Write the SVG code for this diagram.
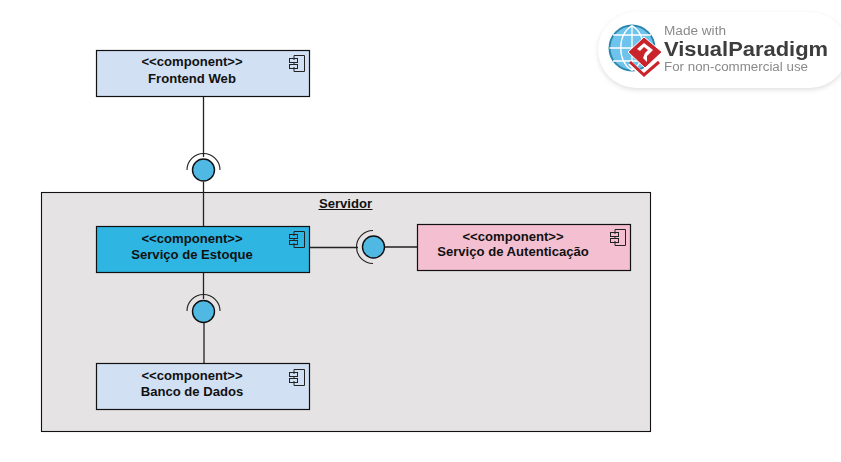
<svg xmlns="http://www.w3.org/2000/svg" width="841" height="462" viewBox="0 0 841 462">
<defs>
<style>
text{font-family:"Liberation Sans",Arial,sans-serif;font-weight:bold;font-size:13.100px;fill:#111;text-anchor:middle}
.box{stroke:#111;stroke-width:1.2}
.ln{stroke:#222;stroke-width:1.3;fill:none}
.arc{stroke:#222;stroke-width:1.1;fill:none}
.ball{fill:#4fb9e3;stroke:#111;stroke-width:1.4}
.ic{fill:none;stroke:#222;stroke-width:1}
.bt{text-anchor:start;font-weight:normal;fill:#8a8a8a}
</style>
<g id="cicon"><path class="ic" d="M4.500 0H15V16H4.500V11.500M4.500 8.500V7.500M4.500 4.500V0"/><rect class="ic" x="0" y="3" width="8" height="4"/><rect class="ic" x="0" y="9" width="8" height="4"/></g>
<filter id="sh" x="-10%" y="-20%" width="120%" height="140%"><feGaussianBlur stdDeviation="2.500"/></filter>
<filter id="sf"><feGaussianBlur stdDeviation="0.300"/></filter>
</defs>
<rect width="841" height="462" fill="#fff"/>
<g id="servidor"><rect x="41.500" y="192.500" width="609" height="239" fill="#e6e3e4" stroke="#111" stroke-width="1.100"/>
<text x="345.500" y="208">Servidor</text><rect x="318.500" y="209" width="54" height="1" fill="#111"/></g>
<g id="connectors">
<path class="ln" d="M203.500 96V157M203.500 182V226"/>
<path class="ln" d="M203.500 272V299M204 323V364" />
<path class="ln" d="M310 247.500H358M385 247H418"/>
<path class="arc" d="M187 170A16.500 16.500 0 0 1 220 170"/>
<path class="arc" d="M187 311A16.500 16.500 0 0 1 220 311"/>
<path class="arc" d="M373 230.500A16.500 16.500 0 0 0 373 263.500"/>
<circle class="ball" cx="203.500" cy="170" r="11"/>
<circle class="ball" cx="203.500" cy="311.500" r="11"/>
<circle class="ball" cx="373.500" cy="247" r="11"/>
</g>
<g id="frontend"><rect class="box" x="96.500" y="50.500" width="213" height="46" fill="#d2e0f3"/><text x="192" y="66">&lt;&lt;component&gt;&gt;</text><text x="192" y="82.500">Frontend Web</text><use href="#cicon" x="289.500" y="55.500"/></g>
<g id="estoque"><rect class="box" x="96.500" y="226.500" width="213" height="46" fill="#2fb5e2"/><text x="192" y="243">&lt;&lt;component&gt;&gt;</text><text x="192" y="259">Serviço de Estoque</text><use href="#cicon" x="289.500" y="231.500"/></g>
<g id="banco"><rect class="box" x="96.500" y="363.500" width="213" height="46" fill="#d2e0f3"/><text x="192" y="380">&lt;&lt;component&gt;&gt;</text><text x="192" y="396">Banco de Dados</text><use href="#cicon" x="289.500" y="369.500"/></g>
<g id="autenticacao"><rect class="box" x="417.500" y="224.500" width="213" height="46" fill="#f4c0d1"/><text x="513" y="241">&lt;&lt;component&gt;&gt;</text><text x="513" y="256">Serviço de Autenticação</text><use href="#cicon" x="610.500" y="229.500"/></g>
<g id="badge">
<rect x="598" y="14" width="250" height="76" rx="38" fill="#000" opacity="0.12" filter="url(#sh)"/>
<rect x="598" y="12" width="250" height="76" rx="38" fill="#fff"/>
<circle cx="632" cy="48" r="22.500" fill="#6ec3ec" stroke="#2d87ad" stroke-width="2"/>
<path d="M632 25.500V70.500M609.500 48H654.500M613 35H651M613 61H651M632 25.500C617 35 617 61 632 70.500M632 25.500C647 35 647 61 632 70.500" fill="none" stroke="#fff" stroke-width="1.300"/>
<path d="M630 63L644 76L659 63" fill="none" stroke="#fff" stroke-width="5"/>
<path d="M630 62L644 75L659 62" fill="none" stroke="#c9242c" stroke-width="3"/>
<path d="M644 37L662 52L645 68L628 52Z" fill="#c9242c" stroke="#fff" stroke-width="1"/>
<path d="M637 49L644 43L653 50L647 56L647 62L643 58L645 53L648 50L644 47L640 51Z" fill="#fff"/>
<text class="bt" x="664" y="35" style="font-size:12.500px" textLength="62" lengthAdjust="spacingAndGlyphs" filter="url(#sf)">Made with</text>
<text x="664" y="56" style="font-weight:bold;font-size:20px;text-anchor:start;fill:#3c3c3c" textLength="164" lengthAdjust="spacingAndGlyphs" filter="url(#sf)">VisualParadigm</text>
<text class="bt" x="664" y="71" style="font-size:12px" textLength="144" lengthAdjust="spacingAndGlyphs" filter="url(#sf)">For non-commercial use</text>
</g>
</svg>
